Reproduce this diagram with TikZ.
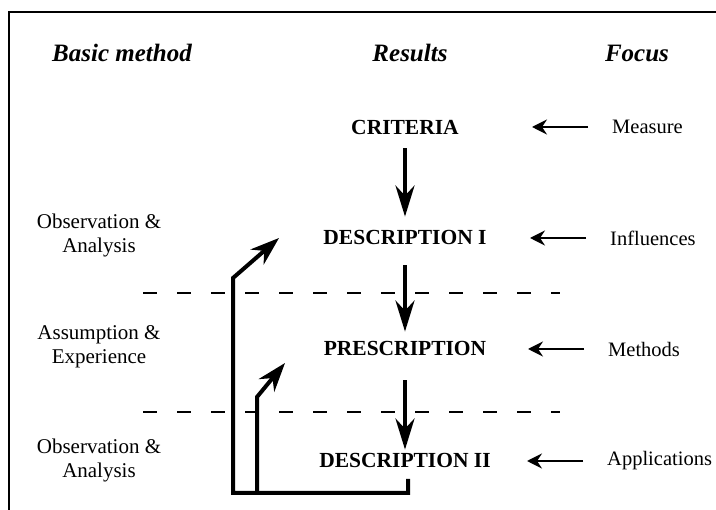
\documentclass[tikz,border=0pt]{standalone}
\usepackage{fontspec}
\setmainfont{Liberation Serif}
\usetikzlibrary{arrows.meta}

\tikzset{
    colhead/.style={font=\fontsize{25}{28}\selectfont\bfseries\itshape, anchor=base},
    result/.style={font=\fontsize{21.5}{24}\selectfont\bfseries, inner sep=0pt},
    method/.style={font=\fontsize{21}{24}\selectfont, align=center},
    focus/.style={font=\fontsize{20.5}{24}\selectfont, anchor=west, inner sep=0pt},
    bigarrow/.style={line width=4pt, -{Stealth[length=31pt,width=19pt]}},
    looparrow/.style={line width=4pt, -{Stealth[length=29pt,width=20pt]}},
    focusarrow/.style={line width=2pt, -{Stealth[length=15pt,width=15pt,inset=5pt]}},
    divider/.style={line width=2pt, dash pattern=on 14pt off 20pt}
}

\begin{document}
\begin{tikzpicture}[x=1pt, y=-1pt]
    \useasboundingbox (0,0) rectangle (716,510);

    % Frame (cut off right and bottom)
    \draw[line width=2pt] (9,510) -- (9,12) -- (716,12);

    % Column headers
    \node[colhead] (hbasic) at (122,62) {Basic method};
    \node[colhead] (hresults) at (410,62) {Results};
    \node[colhead] (hfocus) at (637,62) {Focus};

    % Results column
    \node[result] (crit) at (405,127) {CRITERIA};
    \node[result] (descI) at (405,237) {DESCRIPTION I};
    \node[result] (presc) at (405,348) {PRESCRIPTION};
    \node[result] (descII) at (405,460) {DESCRIPTION II};

    \foreach \a/\b/\s/\e in {crit/descI/14/13, descI/presc/21/9, presc/descII/25/3} {
        \draw[bigarrow, shorten <=\s pt, shorten >=\e pt] (\a) -- (\b);
    }

    % Basic method column
    \node[method] (obs1) at (99,235) {Observation \&\\Analysis};
    \node[method] (assum) at (99,347) {Assumption \&\\Experience};
    \node[method] (obs2) at (99,460) {Observation \&\\Analysis};

    % Focus column
    \node[focus] (fmeas) at (612,127) {Measure};
    \node[focus] (finfl) at (610,238) {Influences};
    \node[focus] (fmeth) at (608,349) {Methods};
    \node[focus] (fappl) at (607,461) {Applications};

    \foreach \f in {fmeas,finfl,fmeth,fappl} {
        \coordinate (\f-tip) at ([xshift=-80pt]\f.west);
        \draw[focusarrow, shorten <=24pt] (\f.west) -- (\f-tip);
    }

    % Dividers
    \draw[divider] (143,293) -- (560,293);
    \draw[divider] (143,412) -- (560,412);

    % Feedback loops
    \coordinate (loopstart) at (408,479);
    \coordinate (loopcorner) at (233,493);
    \coordinate (bigbend) at (233,278);
    \coordinate (bigtip) at (279,238);
    \coordinate (smallbend) at (257,397);
    \coordinate (smalltip) at (285,363);

    \draw[looparrow] (loopstart) -- (loopstart |- loopcorner) -- (loopcorner)
        -- (bigbend) -- (bigtip);
    \draw[looparrow] (smallbend |- loopcorner) -- (smallbend) -- (smalltip);
\end{tikzpicture}
\end{document}
